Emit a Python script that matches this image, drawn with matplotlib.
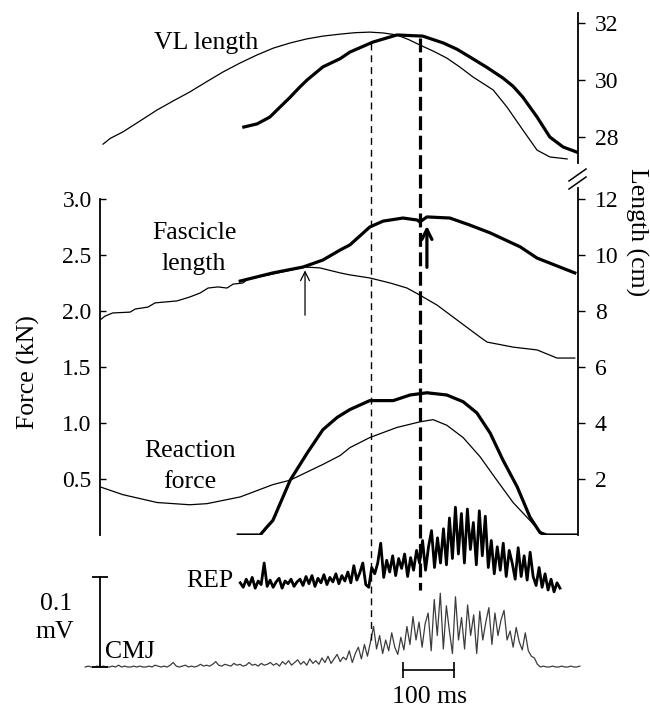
import numpy as np
import matplotlib
matplotlib.use("Agg")
import matplotlib.pyplot as plt

plt.rcParams['font.family'] = ['Liberation Serif', 'DejaVu Serif']
plt.rcParams['lines.scale_dashes'] = False

# ---------------- data (time in ms from the force axis) ----------------
vl_cmj_t = [6, 20, 45, 80, 112, 145, 176, 210, 241, 275, 308, 340, 373, 405, 437, 471, 500, 529,
            556, 582, 605, 627, 655, 680, 706, 731, 771, 798, 829, 857, 882, 916]
vl_cmj_cm = [27.75, 27.95, 28.18, 28.58, 28.95, 29.28, 29.58, 29.95, 30.28, 30.60, 30.88, 31.12,
             31.30, 31.44, 31.54, 31.61, 31.66, 31.68, 31.65, 31.58, 31.42, 31.23, 31.00, 30.77,
             30.45, 30.11, 29.65, 29.05, 28.25, 27.54, 27.30, 27.23]

vl_rep_t = [282, 308, 333, 353, 373, 390, 406, 437, 471, 490, 535, 582, 633, 673, 700, 725, 758,
            790, 810, 829, 857, 882, 908, 935]
vl_rep_cm = [28.35, 28.46, 28.70, 29.05, 29.40, 29.72, 30.0, 30.46, 30.75, 30.98, 31.33, 31.58,
             31.54, 31.30, 31.08, 30.81, 30.45, 30.07, 29.78, 29.40, 28.70, 28.0, 27.65, 27.47]

fas_cmj_t = [0, 10, 25, 59, 69, 94, 108, 151, 176, 196, 212, 231, 249, 261, 280, 290, 339, 402,
             431, 471, 490, 529, 569, 602, 627, 661, 700, 745, 759, 810, 857, 896, 931]
fas_cmj_cm = [7.68, 7.82, 7.93, 7.96, 8.07, 8.14, 8.29, 8.36, 8.50, 8.64, 8.82, 8.86, 8.82, 8.96,
              9.00, 9.14, 9.32, 9.57, 9.54, 9.36, 9.29, 9.18, 9.00, 8.82, 8.57, 8.21, 7.68, 7.07,
              6.89, 6.71, 6.61, 6.32, 6.32]

fas_rep_t = [275, 339, 398, 437, 471, 490, 529, 555, 594, 622, 627, 641, 686, 725, 765, 824, 857, 896, 931]
fas_rep_cm = [9.07, 9.36, 9.57, 9.82, 10.18, 10.36, 11.0, 11.21, 11.32, 11.25, 11.18, 11.36, 11.32,
              11.07, 10.79, 10.29, 9.89, 9.61, 9.36]

force_cmj_t = [0, 45, 112, 176, 210, 275, 339, 373, 437, 471, 490, 529, 582, 627, 653, 680, 712,
               745, 778, 810, 843, 863, 876]
force_cmj_kn = [0.43, 0.36, 0.29, 0.27, 0.28, 0.34, 0.45, 0.49, 0.63, 0.71, 0.78, 0.87, 0.96, 1.01,
                1.03, 0.98, 0.87, 0.70, 0.49, 0.29, 0.13, 0.03, 0.0]

force_rep_t = [271, 314, 327, 339, 373, 406, 437, 465, 490, 529, 575, 608, 641, 680, 712, 739, 765,
               790, 818, 843, 863, 876, 935]
force_rep_kn = [0, 0, 0.07, 0.13, 0.49, 0.73, 0.94, 1.05, 1.12, 1.20, 1.20, 1.25, 1.27, 1.25, 1.19,
                1.09, 0.91, 0.67, 0.43, 0.16, 0.02, 0, 0]

# EMG (microvolts), evenly sampled over the given spans
rep_emg_span = (275, 902)
rep_emg_uv = [8, 3, 12, 5, 14, 2, 10, 6, 30, 4, 11, 3, 9, 13, 2, 10, 7, 12, 4, 9,
              12, 5, 15, 7, 16, 4, 13, 8, 17, 6, 14, 9, 18, 7, 16, 10, 20, 8, 27, 11, 19, 30, 6,
              3, 25,
              18, 30, 52, 14, 33, 20, 38, 16, 35, 24, 40, 15, 36, 22, 44,
              30, 55, 22, 48, 66, 25, 58, 30, 68, 28,
              80, 35, 92, 40, 85, 30, 90, 45, 75, 28, 88, 38, 82,
              25, 55, 18, 48, 22, 52, 15, 44,
              30, 12, 47, 15, 38, 11, 42,
              15, 5, 25, 3, 18, 0, 12, -2, 8, 2]

cmj_emg_span = (-29, 941)
cmj_emg_uv = [0, 1, 0, 0, 1, 0, 1, 0, 0, 1, 0, 2, 0, 1, 0, 0, 1, 0, 1, 0,
              0, 1, 0, 2, 1, 0, 1, 0, 2, 5, 1, 0, 1, 2, 0, 1, 0, 1, 3, 1,
              2, 1, 3, 6, 2, 1, 3, 2, 1, 4, 2, 3, 1, 2, 5, 2, 3, 1, 4, 2,
              3, 5, 2, 4, 1, 6,
              3, 7, 2, 5, 8, 3, 6, 2, 9, 4,
              7, 3, 10, 5, 12, 4, 9, 14, 6, 11,
              8, 18, 5, 15, 22, 9, 25, 12, 28, 45,
              20, 35, 15, 30, 18, 38, 22, 14, 33, 19,
              45, 25, 56, 30, 50, 22, 48,
              60, 18, 75, 35, 82, 20, 68, 40, 15, 78, 30,
              55, 20, 69, 35, 58, 15, 62, 30, 50, 66, 25,
              60, 35, 52, 63, 30,
              40, 22, 44, 28, 19, 38,
              18, 12, 10, 3,
              0, 1, 0, 0, 1, 0, 0, 1, 0, 0, 1, 0, 0, 1]

event_t = [531, 627]          # thin / thick dashed lines
arrow_cmj = (402, 7.75, 9.55)  # t, from cm, to cm
arrow_rep = (641, 9.46, 11.14)

# ---------------- layout ----------------
W, H = 650, 713
T0_PX, PX_PER_MS = 100, 0.51


def rect(x0, x1, ytop, ybot):
    return [x0 / W, (H - ybot) / H, (x1 - x0) / W, (ybot - ytop) / H]


def xlim_for(x0, x1):
    return ((x0 - T0_PX) / PX_PER_MS, (x1 - T0_PX) / PX_PER_MS)


fig = plt.figure(figsize=(W / 100, H / 100), dpi=100)
TICK_FS = 17
LAB_FS = 18.5
THIN = 0.9
THICK = 2.3

# lower panel: force (left) and fascicle length (right)
axF = fig.add_axes(rect(100, 578, 187, 535))
axF.set_xlim(*xlim_for(100, 578))
axF.set_ylim(0, 348 / 112)
axL = axF.twinx()
axL.set_ylim(0, 348 / 28)

for s in ['top', 'bottom', 'right']:
    axF.spines[s].set_visible(False)
for s in ['top', 'bottom', 'left']:
    axL.spines[s].set_visible(False)
axF.spines['left'].set_bounds(0, 3.0)
axL.spines['right'].set_bounds(0, 12.4)
axF.spines['left'].set_linewidth(1.3)
axL.spines['right'].set_linewidth(1.3)
axF.set_xticks([])
axF.set_yticks([0.5, 1.0, 1.5, 2.0, 2.5, 3.0])
axF.set_yticklabels(['0.5', '1.0', '1.5', '2.0', '2.5', '3.0'])
axF.tick_params(axis='y', direction='in', length=4, width=1.0, labelsize=TICK_FS, pad=6)
axL.set_yticks([2, 4, 6, 8, 10, 12])
axL.tick_params(axis='y', direction='out', length=5, width=1.0, labelsize=TICK_FS, pad=7)

axF.plot(force_cmj_t, force_cmj_kn, color='k', lw=THIN)
axF.plot(force_rep_t, force_rep_kn, color='k', lw=THICK, solid_joinstyle='round')
axL.plot(fas_cmj_t, fas_cmj_cm, color='k', lw=THIN)
axL.plot(fas_rep_t, fas_rep_cm, color='k', lw=THICK, solid_joinstyle='round')

axL.annotate('', xy=(arrow_cmj[0], arrow_cmj[2]), xytext=(arrow_cmj[0], arrow_cmj[1]),
             arrowprops=dict(arrowstyle='->', lw=0.9, color='k', mutation_scale=16))
axL.annotate('', xy=(arrow_rep[0], arrow_rep[2]), xytext=(arrow_rep[0], arrow_rep[1]),
             arrowprops=dict(arrowstyle='->', lw=2.3, color='k', mutation_scale=18))

# upper panel: VL length
axV = fig.add_axes(rect(100, 578, 13, 165))
axV.set_xlim(*xlim_for(100, 578))
axV.set_ylim(27.018, 32.351)
axV.patch.set_visible(False)
for s in ['top', 'bottom', 'left']:
    axV.spines[s].set_visible(False)
axV.spines['right'].set_bounds(27.1, 32.351)
axV.spines['right'].set_linewidth(1.3)
axV.set_xticks([])
axV.yaxis.tick_right()
axV.set_yticks([28, 30, 32])
axV.tick_params(axis='y', direction='out', length=5, width=1.0, labelsize=TICK_FS, pad=7)
axV.plot(vl_cmj_t, vl_cmj_cm, color='k', lw=THIN)
axV.plot(vl_rep_t, vl_rep_cm, color='k', lw=THICK, solid_joinstyle='round')

# EMG panel
axE = fig.add_axes(rect(0, 650, 480, 713))
axE.set_xlim(*xlim_for(0, 650))
axE.set_ylim(-(713 - 667) / 0.9, (667 - 480) / 0.9)
axE.axis('off')
axE.patch.set_visible(False)
REP_OFFSET = (667 - 590) / 0.9
rep_t = np.linspace(rep_emg_span[0], rep_emg_span[1], len(rep_emg_uv))
cmj_t = np.linspace(cmj_emg_span[0], cmj_emg_span[1], len(cmj_emg_uv))
axE.plot(rep_t, np.array(rep_emg_uv) + REP_OFFSET, color='k', lw=2.0)
axE.plot(cmj_t, cmj_emg_uv, color='#3c3c3c', lw=0.9)
# 0.1 mV scale bar
axE.plot([0, 0], [0, 100], color='k', lw=1.3)
axE.plot([0, 0], [0, 100], ls='none', marker='_', ms=11, mew=1.3, color='k')
# 100 ms scale bar
tb = (667 - 670) / 0.9
axE.plot([594, 694], [tb, tb], color='k', lw=1.2)
axE.plot([594, 694], [tb, tb], ls='none', marker='|', ms=11, mew=1.2, color='k')

# overlay for dashed event lines and break marks (pixel y)
axO = fig.add_axes([0, 0, 1, 1])
axO.set_xlim(*xlim_for(0, 650))
axO.set_ylim(H, 0)
axO.axis('off')
axO.patch.set_visible(False)
l1, = axO.plot([event_t[0], event_t[0]], [43, 640], color='k', lw=1.0)
l1.set_dashes((5, 3.5))
l2, = axO.plot([event_t[1], event_t[1]], [38, 590], color='k', lw=2.3)
l2.set_dashes((10, 4))
bx0, bx1 = xlim_for(569, 0)[0], xlim_for(586, 0)[0]
axO.plot([bx0, bx1], [181, 169], color='k', lw=1.1)
axO.plot([bx0, bx1], [189, 177], color='k', lw=1.1)


def ftext(x, y, s, **kw):
    kw.setdefault('fontsize', LAB_FS)
    fig.text(x / W, 1 - y / H, s, ha=kw.pop('ha', 'center'), va=kw.pop('va', 'center'), **kw)


ftext(206, 43, 'VL length')
ftext(194, 233, 'Fascicle')
ftext(194, 264, 'length')
ftext(190, 451, 'Reaction')
ftext(190, 482, 'force')
ftext(210, 581, 'REP')
ftext(130, 652, 'CMJ')
ftext(56, 604, '0.1')
ftext(55, 632, 'mV')
ftext(429, 697, '100 ms')
ftext(28, 372, 'Force (kN)', rotation=90)
ftext(637, 232, 'Length (cm)', rotation=-90)

fig.savefig('out.png', dpi=100)
